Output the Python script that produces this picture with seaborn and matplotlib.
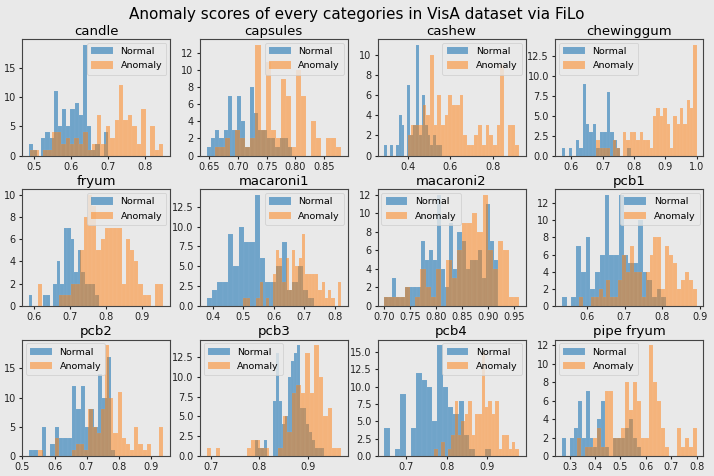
import numpy as np
import pandas as pd
import matplotlib
matplotlib.use("Agg")
import matplotlib.pyplot as plt
from matplotlib.ticker import MaxNLocator
import seaborn as sns

# ---------------- data (bin counts) ----------------
categories = ["candle", "capsules", "cashew", "chewinggum",
              "fryum", "macaroni1", "macaroni2", "pcb1",
              "pcb2", "pcb3", "pcb4", "pipe fryum"]

# histogram ranges (min, max) of each series
normal_ranges = [(0.487, 0.700), (0.645, 0.795), (0.290, 0.560), (0.570, 0.790),
                 (0.585, 0.780), (0.380, 0.730), (0.700, 0.920), (0.535, 0.810),
                 (0.520, 0.790), (0.790, 0.940), (0.645, 0.910), (0.270, 0.580)]
anomaly_ranges = [(0.490, 0.850), (0.660, 0.880), (0.400, 0.920), (0.680, 1.000),
                  (0.610, 0.960), (0.500, 0.820), (0.700, 0.960), (0.580, 0.890),
                  (0.550, 0.940), (0.690, 0.970), (0.770, 0.980), (0.330, 0.800)]

candle_normal = [2, 1, 0, 3, 4, 3, 11, 5, 8, 5, 8, 9, 7, 19, 5, 1, 2, 0, 4]
candle_anomaly = [1, 1, 0, 1, 1, 4, 4, 2, 3, 2, 3, 2, 4, 1, 2, 7, 2, 5, 3, 6,
                  12, 6, 7, 5, 2, 8, 0, 5, 1, 2]
capsules_normal = [1, 2, 3, 2, 3, 7, 3, 7, 4, 1, 8, 5, 3, 3, 2, 2, 1, 2, 2, 1]
capsules_anomaly = [1, 1, 2, 0, 3, 2, 1, 2, 13, 3, 11, 3, 2, 9, 7, 1, 10, 7, 0,
                    4, 2, 0, 2, 2, 1]
cashew_normal = [1, 0, 1, 0, 1, 4, 3, 0, 7, 2, 3, 11, 2, 6, 3, 2, 1, 2, 1, 1]
cashew_anomaly = [2, 3, 3, 3, 5, 4, 10, 3, 6, 3, 4, 6, 5, 5, 6, 2, 1, 1, 2, 3,
                  1, 3, 2, 1, 3, 9, 0, 3, 3, 1]
chewinggum_normal = [1, 0, 1, 0, 2, 1, 9, 4, 3, 4, 1, 3, 3, 8, 3, 2, 1, 0, 0, 1]
chewinggum_anomaly = [2, 1, 1, 1, 0, 2, 1, 0, 3, 2, 3, 3, 2, 3, 2, 2, 1, 5, 6, 5,
                      6, 4, 1, 5, 4, 6, 4, 7, 6, 14]
fryum_normal = [1, 0, 0, 0, 1, 1, 0, 2, 4, 2, 7, 7, 6, 3, 5, 3, 2, 2, 2, 1]
fryum_anomaly = [2, 0, 0, 0, 0, 1, 1, 1, 2, 2, 5, 8, 10, 9, 5, 6, 7, 7, 7, 7,
                 2, 6, 5, 4, 2, 1, 1, 0, 2, 2]
macaroni1_normal = [1, 2, 3, 3, 9, 5, 10, 8, 8, 14, 6, 3, 3, 5, 8, 2, 3, 5, 2, 1]
macaroni1_anomaly = [1, 1, 0, 0, 1, 3, 0, 1, 0, 4, 7, 6, 3, 6, 2, 7, 5, 6, 9, 4,
                     4, 4, 4, 2, 3, 1, 2, 1, 0, 3]
macaroni2_normal = [1, 1, 3, 1, 1, 2, 2, 2, 2, 7, 5, 6, 5, 12, 4, 2, 9, 4, 8, 7,
                    4, 5, 5, 6, 3, 11, 7, 5]
macaroni2_anomaly = [1, 1, 1, 1, 2, 0, 1, 4, 2, 1, 4, 0, 5, 3, 6, 9, 9, 10, 8,
                     12, 6, 4, 7, 6, 1, 1]
pcb1_normal = [1, 0, 1, 7, 4, 8, 2, 4, 6, 13, 6, 6, 13, 6, 5, 5, 10, 4, 3, 1, 2, 1]
pcb1_anomaly = [1, 0, 0, 1, 1, 2, 1, 3, 1, 1, 3, 6, 4, 7, 4, 4, 1, 4, 6, 8,
                8, 2, 7, 6, 5, 2, 3, 4, 3, 2]
pcb2_normal = [1, 1, 0, 5, 0, 2, 5, 3, 3, 3, 12, 8, 12, 5, 8, 5, 14, 10, 17, 1]
pcb2_anomaly = [1, 0, 0, 0, 3, 0, 0, 0, 1, 2, 2, 1, 8, 5, 4, 8, 19, 10, 4, 11,
                3, 2, 1, 5, 2, 1, 2, 0, 0, 5]
pcb3_normal = [2, 1, 1, 2, 0, 0, 7, 13, 7, 4, 5, 10, 12, 13, 14, 6, 6, 4, 3, 2,
               1, 1, 1, 0]
pcb3_anomaly = [1, 0, 1, 0, 0, 0, 0, 0, 0, 1, 2, 2, 1, 1, 0, 0, 1, 5, 3, 8,
                9, 8, 13, 8, 14, 10, 5, 6, 1, 1]
pcb4_normal = [4, 0, 1, 9, 0, 4, 12, 11, 10, 5, 16, 10, 7, 6, 8, 3, 1, 0, 0, 1]
pcb4_anomaly = [1, 0, 2, 0, 1, 3, 8, 3, 5, 6, 8, 3, 6, 6, 15, 7, 8, 6, 8, 1,
                3, 3, 1, 2, 1]
pipefryum_normal = [2, 0, 2, 3, 6, 2, 7, 2, 1, 4, 6, 1, 0, 2, 2, 2, 3, 4, 2, 1]
pipefryum_anomaly = [2, 0, 1, 1, 2, 3, 1, 7, 7, 2, 2, 3, 8, 5, 8, 6, 2, 2, 12, 8,
                     6, 3, 1, 0, 0, 3, 1, 2, 1, 3]

normal_counts = [candle_normal, capsules_normal, cashew_normal, chewinggum_normal,
                 fryum_normal, macaroni1_normal, macaroni2_normal, pcb1_normal,
                 pcb2_normal, pcb3_normal, pcb4_normal, pipefryum_normal]
anomaly_counts = [candle_anomaly, capsules_anomaly, cashew_anomaly, chewinggum_anomaly,
                  fryum_anomaly, macaroni1_anomaly, macaroni2_anomaly, pcb1_anomaly,
                  pcb2_anomaly, pcb3_anomaly, pcb4_anomaly, pipefryum_anomaly]

legend_loc = ["upper right", "upper right", "upper right", "upper left",
              "upper right", "upper right", "upper left", "upper right",
              "upper left", "upper left", "upper right", "upper left"]

series_labels = ["Normal", "Anomaly"]
title = "Anomaly scores of every categories in VisA dataset via FiLo"

# ---------------- style ----------------
BG = "#e9e9e9"
plt.rcParams.update({
    "font.family": ["DejaVu Sans"],
    "figure.facecolor": BG,
    "axes.facecolor": BG,
    "axes.edgecolor": "#444444",
    "axes.linewidth": 0.8,
    "xtick.labelsize": 7,
    "ytick.labelsize": 7,
    "xtick.major.size": 2.5,
    "ytick.major.size": 2.5,
    "xtick.major.pad": 2,
    "ytick.major.pad": 2,
    "xtick.color": "#222222",
    "ytick.color": "#222222",
})

fig, axes = plt.subplots(3, 4, figsize=(7.14, 4.76), dpi=100)
fig.subplots_adjust(left=0.031, right=0.985, top=0.918, bottom=0.042,
                    wspace=0.2, hspace=0.29)

colors = ["#1f77b4", "#ff7f0e"]
alphas = [0.6, 0.5]


def draw_series(ax, rng, counts, color, alpha, label):
    n = len(counts)
    step = (rng[1] - rng[0]) / n
    centers = rng[0] + step * (np.arange(n) + 0.5)
    df = pd.DataFrame({"score": centers, "count": counts})
    sns.histplot(data=df, x="score", weights="count", bins=n, binrange=rng,
                 ax=ax, color=color, alpha=alpha, label=label,
                 edgecolor=(1, 1, 1, 0.15), linewidth=0.2)


for i, ax in enumerate(axes.flat):
    draw_series(ax, normal_ranges[i], normal_counts[i], colors[0], alphas[0], series_labels[0])
    draw_series(ax, anomaly_ranges[i], anomaly_counts[i], colors[1], alphas[1], series_labels[1])
    ax.set_title(categories[i], fontsize=9.5, pad=3)
    ax.set_xlabel("")
    ax.set_ylabel("")
    ax.yaxis.set_major_locator(MaxNLocator(nbins=7, steps=[1, 2, 2.5, 5, 10]))
    ax.xaxis.set_major_locator(MaxNLocator(nbins=6, steps=[1, 2, 2.5, 5, 10]))
    leg = ax.legend(loc=legend_loc[i], fontsize=6.8, frameon=True,
                    handlelength=2.3, handleheight=0.8, borderpad=0.45,
                    labelspacing=0.55, handletextpad=0.8, borderaxespad=0.4)
    leg.get_frame().set_facecolor(BG)
    leg.get_frame().set_edgecolor("#cccccc")
    leg.get_frame().set_linewidth(0.6)

fig.suptitle(title, fontsize=11, y=0.985)
fig.savefig("out.png", dpi=100, facecolor=BG)
